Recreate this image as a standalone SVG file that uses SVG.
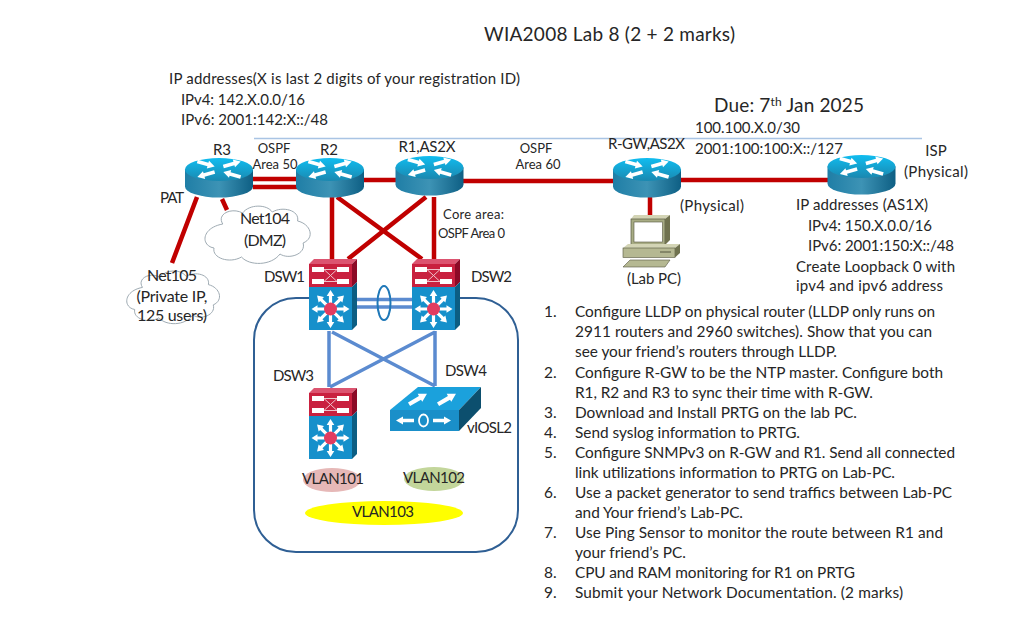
<svg xmlns="http://www.w3.org/2000/svg" xmlns:xlink="http://www.w3.org/1999/xlink" width="1009" height="623" viewBox="0 0 1009 623">
<style>
text{font-family:"Lato","Carlito","Open Sans",sans-serif;fill:#262626;font-size:15px}
.m{text-anchor:middle}
.s{font-size:13px}
.l{font-size:15.400px}
.t{font-size:19px}
.b{font-size:16px}
.red{stroke:#c00000;stroke-width:4.500;fill:none}
.blue{stroke:#5b8bd0;stroke-width:3.500;fill:none}
.w{fill:#fff}
.cl{fill:#fff;stroke:#9fabb3;stroke-width:1;vector-effect:non-scaling-stroke}
</style>
<defs>
<linearGradient id="rt" x1="0" y1="0" x2="0" y2="1"><stop offset="0" stop-color="#10bdf0"/><stop offset="1" stop-color="#1a88b0"/></linearGradient>
<linearGradient id="rb" x1="0" y1="0" x2="1" y2="0"><stop offset="0" stop-color="#1f7ea6"/><stop offset=".5" stop-color="#3d93b5"/><stop offset="1" stop-color="#0e5f84"/></linearGradient>
<polygon id="ar" points="-9,-1.800 2,-1.800 2,-4 9,0 2,4 2,1.800 -9,1.800"/>
<polygon id="sp" points="4,-1.600 13,-1.600 13,-3.800 19,0 13,3.800 13,1.600 4,1.600"/>
<path id="cloud" class="cl" d="M18,20 C12,10 26,3 36,9 C42,0 58,0 63,8 C72,2 88,6 86,17 C98,20 102,34 91,39 C94,50 78,56 70,50 C62,62 42,62 35,53 C24,60 8,54 10,44 C-2,42 -2,24 18,20 Z"/>
<g id="router">
<path d="M-34,0 V17 A34,11 0 0 0 34,17 V0 Z" fill="url(#rb)"/>
<ellipse rx="34" ry="11.500" fill="url(#rt)"/>
<g class="w">
<use xlink:href="#ar" transform="translate(-13,-5.500) rotate(16)"/>
<use xlink:href="#ar" transform="translate(13,-5.500) rotate(-16)"/>
<use xlink:href="#ar" transform="translate(-13,5) rotate(164)"/>
<use xlink:href="#ar" transform="translate(13,5) rotate(196)"/>
</g>
</g>
<g id="mls">
<polygon points="0,5 5,0 48,0 43,5" fill="#dc5470"/>
<rect y="5" width="43" height="23" fill="#c9213f"/>
<polygon points="43,5 48,0 48,23 43,28" fill="#8c0a26"/>
<rect y="28" width="43" height="43" fill="#1690cb"/>
<polygon points="43,28 48,23 48,66 43,71" fill="#0c5e83"/>
<g class="w">
<rect x="3" y="8" width="12" height="5"/><rect x="28" y="8" width="12" height="5"/>
<rect x="3" y="20" width="12" height="5"/><rect x="28" y="20" width="12" height="5"/>
</g>
<path d="M15,10.500 H28 M15,22.500 H28 M15,10.500 L28,22.500 M15,22.500 L28,10.500" stroke="#eec3cb" stroke-width="1" fill="none"/>
<g class="w" transform="translate(21.500,50)">
<use xlink:href="#sp"/><use xlink:href="#sp" transform="rotate(45)"/><use xlink:href="#sp" transform="rotate(90)"/><use xlink:href="#sp" transform="rotate(135)"/><use xlink:href="#sp" transform="rotate(180)"/><use xlink:href="#sp" transform="rotate(225)"/><use xlink:href="#sp" transform="rotate(270)"/><use xlink:href="#sp" transform="rotate(315)"/>
</g>
<circle cx="21.500" cy="50" r="6.500" fill="#e23c60"/>
</g>
</defs>
<rect width="1009" height="623" fill="#fff"/>

<g id="connectors">
<path d="M254,138.500 H922" stroke="#a9c4e4" stroke-width="1.500" fill="none"/>
<path id="boundary" d="M309,298 H296 A42,42 0 0 0 254,340 V510 A42,42 0 0 0 296,552 H476 A42,42 0 0 0 518,510 V340 A42,42 0 0 0 476,298 H460" fill="none" stroke="#2f5f94" stroke-width="2"/>
<path class="red" d="M253,179 H298 M253,187 H298 M363,180 H396 M463,181 H614 M681,180 H828 M332,197 V259 M337,197 L422,259 M426,197 L348,259 M434,197 V259 M197,197 L172,263 M222,199 L227,210 M650,197 V215"/>
<path class="blue" d="M357,299.500 H412 M357,307 H412 M329,331 V387 M332,332 L435,386 M435,332 L330,387 M435,331 V386"/>
<ellipse cx="384" cy="303" rx="6.500" ry="17" fill="none" stroke="#1f78b8" stroke-width="2"/>
</g>

<g id="R3"><use xlink:href="#router" x="219" y="169.500"/><text class="m" x="222" y="155">R3</text></g>
<g id="R2"><use xlink:href="#router" x="330" y="169.500"/><text class="m" x="329" y="155">R2</text></g>
<g id="R1"><use xlink:href="#router" x="429.500" y="167.500"/><text class="m" x="427" y="152" textLength="57">R1,AS2X</text></g>
<g id="R-GW"><use xlink:href="#router" x="647" y="169.500"/><text x="608" y="149" textLength="77">R-GW,AS2X</text><text x="680" y="211" textLength="64">(Physical)</text></g>
<g id="ISP"><use xlink:href="#router" x="861.500" y="166.500"/><text class="m" x="936" y="156">ISP</text><text x="904" y="177" textLength="64">(Physical)</text></g>

<g id="Net104"><use xlink:href="#cloud" transform="translate(203,204) scale(1.1,1)"/><text class="m b" x="265" y="224" textLength="50">Net104</text><text class="m b" x="265" y="246" textLength="42">(DMZ)</text></g>
<g id="Net105"><use xlink:href="#cloud" transform="translate(125,269) scale(.97,.92)"/><text class="m b" x="172" y="281" textLength="50">Net105</text><text class="m b" x="172" y="302" textLength="71">(Private IP,</text><text class="m b" x="172" y="321" textLength="70">125 users)</text></g>

<g id="DSW1"><use xlink:href="#mls" x="309" y="259"/><text x="264" y="282" textLength="41">DSW1</text></g>
<g id="DSW2"><use xlink:href="#mls" x="412" y="259"/><text x="471" y="282" textLength="41">DSW2</text></g>
<g id="DSW3"><use xlink:href="#mls" x="309" y="388"/><text x="273" y="381" textLength="41">DSW3</text></g>
<g id="DSW4">
<polygon points="390,410 459,410 481,387 418,387" fill="#1ba1dc"/>
<rect x="390" y="410" width="69" height="21" fill="#1a8fc9"/>
<polygon points="459,410 481,387 481,408 459,431" fill="#0c4f6e"/>
<g class="w">
<use xlink:href="#ar" transform="translate(418,399) rotate(-30) scale(1.150)"/>
<use xlink:href="#ar" transform="translate(447,399) rotate(-30) scale(1.150)"/>
<use xlink:href="#ar" transform="translate(405,420.500) rotate(180)"/>
<use xlink:href="#ar" transform="translate(442,420.500)"/>
</g>
<ellipse cx="423.500" cy="420.500" rx="4.500" ry="6" fill="none" stroke="#fff" stroke-width="1.800"/>
<text x="445" y="376" textLength="42">DSW4</text><text x="467" y="433" textLength="45">vIOSL2</text>
</g>

<g id="LabPC">
<polygon points="631,219 634,215 670,215 665,219" fill="#d3d4b5"/>
<rect x="631" y="219" width="34" height="26" fill="#a8ac84" stroke="#55563f" stroke-width=".7"/>
<polygon points="665,219 670,215 670,240 665,245" fill="#70724f"/>
<rect x="634" y="222" width="28.500" height="20" fill="#fff" stroke="#55563f" stroke-width=".6"/>
<polygon points="623,248 628,244 680,244 675,248" fill="#d3d4b5"/>
<rect x="623" y="248" width="52" height="9.500" fill="#b5b892" stroke="#55563f" stroke-width=".6"/>
<polygon points="675,248 680,244 680,253 675,257.500" fill="#70724f"/>
<path d="M660,252 H671" stroke="#55563f" stroke-width="1"/>
<polygon points="623,267 630,260 670,260 665,267" fill="#b5b892" stroke="#55563f" stroke-width=".6"/>
<text x="627" y="284" textLength="54">(Lab PC)</text>
</g>

<g id="VLAN101"><ellipse cx="332" cy="480" rx="29" ry="12" fill="#e6b8b7"/><text x="302" y="484" textLength="62">VLAN101</text></g>
<g id="VLAN102"><ellipse cx="434" cy="479" rx="30" ry="12" fill="#c3d69b"/><text x="403" y="483" textLength="62">VLAN102</text></g>
<g id="VLAN103"><ellipse cx="384" cy="513" rx="79" ry="12" fill="#ffff00"/><text x="352" y="517" textLength="62">VLAN103</text></g>

<g id="labels">
<text class="t" x="484" y="41" textLength="251">WIA2008 Lab 8 (2 + 2 marks)</text>
<text x="169" y="84" textLength="351">IP addresses(X is last 2 digits of your registration ID)</text>
<text x="181" y="105" textLength="124">IPv4: 142.X.0.0/16</text>
<text x="181" y="125" textLength="147">IPv6: 2001:142:X::/48</text>
<text class="t" x="714" y="112" textLength="150">Due: 7<tspan dy="-6" style="font-size:12px">th</tspan><tspan dy="6"> Jan 2025</tspan></text>
<text x="695" y="133" textLength="105">100.100.X.0/30</text>
<text x="695" y="154" textLength="148">2001:100:100:X::/127</text>
<text class="s m" x="274" y="153">OSPF</text><text class="s m" x="275" y="169">Area 50</text>
<text class="s m" x="536" y="153">OSPF</text><text class="s m" x="538" y="169">Area 60</text>
<text x="160" y="203" textLength="24">PAT</text>
<text class="s" x="443" y="219" textLength="61">Core area:</text>
<text class="s" x="438" y="238" textLength="67">OSPF Area 0</text>
<text x="796" y="210" textLength="132">IP addresses (AS1X)</text>
<text x="808" y="231" textLength="124">IPv4: 150.X.0.0/16</text>
<text x="808" y="251" textLength="146">IPv6: 2001:150:X::/48</text>
<text x="796" y="272" textLength="159">Create Loopback 0 with</text>
<text x="796" y="291" textLength="147">ipv4 and ipv6 address</text>
</g>

<g id="tasks">
<text class="l" x="544" y="317">1.</text><text class="l" x="575" y="317" textLength="360">Configure LLDP on physical router (LLDP only runs on</text>
<text class="l" x="575" y="337" textLength="357">2911 routers and 2960 switches). Show that you can</text>
<text class="l" x="575" y="357" textLength="262">see your friend’s routers through LLDP.</text>
<text class="l" x="544" y="377.500">2.</text><text class="l" x="575" y="377.500" textLength="368">Configure R-GW to be the NTP master. Configure both</text>
<text class="l" x="575" y="397.500" textLength="298">R1, R2 and R3 to sync their time with R-GW.</text>
<text class="l" x="544" y="417.500">3.</text><text class="l" x="575" y="417.500" textLength="282">Download and Install PRTG on the lab PC.</text>
<text class="l" x="544" y="437.500">4.</text><text class="l" x="575" y="437.500" textLength="225">Send syslog information to PRTG.</text>
<text class="l" x="544" y="457.500">5.</text><text class="l" x="575" y="457.500" textLength="380">Configure SNMPv3 on R-GW and R1. Send all connected</text>
<text class="l" x="575" y="477.500" textLength="320">link utilizations information to PRTG on Lab-PC.</text>
<text class="l" x="544" y="497.500">6.</text><text class="l" x="575" y="497.500" textLength="377">Use a packet generator to send traffics between Lab-PC</text>
<text class="l" x="575" y="517.500" textLength="168">and Your friend’s Lab-PC.</text>
<text class="l" x="544" y="537.500">7.</text><text class="l" x="575" y="537.500" textLength="368">Use Ping Sensor to monitor the route between R1 and</text>
<text class="l" x="575" y="557.500" textLength="111">your friend’s PC.</text>
<text class="l" x="544" y="578">8.</text><text class="l" x="575" y="578" textLength="280">CPU and RAM monitoring for R1 on PRTG</text>
<text class="l" x="544" y="598">9.</text><text class="l" x="575" y="598" textLength="328">Submit your Network Documentation. (2 marks)</text>
</g>
</svg>
